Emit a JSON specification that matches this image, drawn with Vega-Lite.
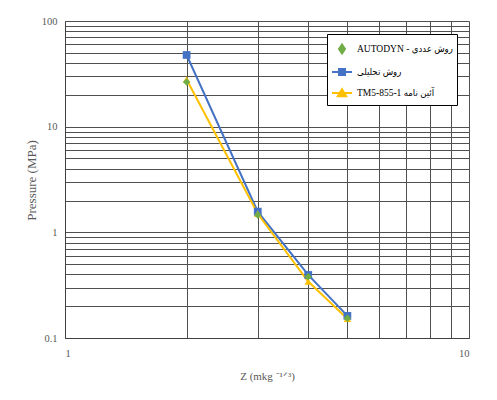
{
  "$schema": "https://vega.github.io/schema/vega-lite/v6.json",
  "autosize": "none",
  "width": 404,
  "height": 317,
  "padding": {"left": 65, "top": 21, "right": 28, "bottom": 62},
  "background": "white",
  "config": {
    "view": {"stroke": null},
    "font": "Liberation Serif",
    "axis": {
      "labelFont": "Liberation Serif",
      "titleFont": "Liberation Serif",
      "labelColor": "#595959",
      "titleColor": "#595959",
      "labelFontSize": 10.5,
      "titleFontWeight": "normal",
      "gridColor": "#505050",
      "gridOpacity": 1,
      "gridWidth": 1,
      "domainColor": "#404040",
      "ticks": false
    }
  },
  "data": {
    "values": [
      {"z": 2, "p": 47.7, "series": "روش تحلیلی"},
      {"z": 3, "p": 1.57, "series": "روش تحلیلی"},
      {"z": 4, "p": 0.395, "series": "روش تحلیلی"},
      {"z": 5, "p": 0.162, "series": "روش تحلیلی"},
      {"z": 2, "p": 28, "series": "TM5-855-1 آئین نامه"},
      {"z": 3, "p": 1.5, "series": "TM5-855-1 آئین نامه"},
      {"z": 4, "p": 0.342, "series": "TM5-855-1 آئین نامه"},
      {"z": 5, "p": 0.152, "series": "TM5-855-1 آئین نامه"},
      {"z": 2, "p": 26.5, "series": "AUTODYN - روش عددی"},
      {"z": 3, "p": 1.46, "series": "AUTODYN - روش عددی"},
      {"z": 4, "p": 0.38, "series": "AUTODYN - روش عددی"},
      {"z": 5, "p": 0.154, "series": "AUTODYN - روش عددی"}
    ]
  },
  "encoding": {
    "x": {
      "field": "z", "type": "quantitative",
      "scale": {"type": "log", "domain": [1, 10], "nice": false},
      "axis": {
        "title": "Z (mkg ⁻¹ᐟ³)",
        "titleFontSize": 11,
        "titlePadding": 12,
        "values": [1, 2, 3, 4, 5, 6, 7, 8, 9, 10],
        "labelExpr": "datum.value == 1 || datum.value == 10 ? '' + datum.value : ''",
        "labelPadding": 10
      }
    },
    "y": {
      "field": "p", "type": "quantitative",
      "scale": {"type": "log", "domain": [0.1, 100], "nice": false},
      "axis": {
        "title": "Pressure (MPa)",
        "titleFontSize": 13,
        "titleX": -27,
        "titleY": 159,
        "values": [0.1, 0.2, 0.3, 0.4, 0.5, 0.6, 0.7, 0.8, 0.9, 1, 2, 3, 4, 5, 6, 7, 8, 9, 10, 20, 30, 40, 50, 60, 70, 80, 90, 100],
        "labelExpr": "datum.value == 0.1 || datum.value == 1 || datum.value == 10 || datum.value == 100 ? '' + datum.value : ''",
        "labelPadding": 8
      }
    },
    "color": {
      "field": "series", "type": "nominal",
      "scale": {
        "domain": ["AUTODYN - روش عددی", "روش تحلیلی", "TM5-855-1 آئین نامه"],
        "range": ["#70AD47", "#4472C4", "#FFC000"]
      },
      "legend": {
        "title": null,
        "orient": "none",
        "legendX": 262,
        "legendY": 13,
        "fillColor": "white",
        "strokeColor": "black",
        "padding": 4,
        "symbolSize": 400,
        "symbolStrokeWidth": 2,
        "labelFont": "Liberation Serif, DejaVu Sans Condensed",
        "labelFontSize": 9.5,
        "labelColor": "black",
        "labelOffset": 4,
        "rowPadding": 3,
        "labelLimit": 200,
        "encode": {
          "symbols": {
            "update": {
              "shape": [
                {"test": "indexof(datum.value,'AUTODYN')>=0", "value": "M0,-0.45L0.3,0L0,0.45L-0.3,0Z"},
                {"test": "indexof(datum.value,'TM5')>=0", "value": "M-1,0H1M0,-0.38L0.42,0.32H-0.42Z"},
                {"value": "M-1,0H1M-0.3,-0.3H0.3V0.3H-0.3Z"}
              ]
            }
          }
        }
      }
    }
  },
  "layer": [
    {
      "transform": [{"filter": "indexof(datum.series,'AUTODYN') < 0"}],
      "mark": {"type": "line", "strokeWidth": 2}
    },
    {
      "transform": [{"filter": "datum.series == 'روش تحلیلی'"}],
      "mark": {"type": "point", "filled": true, "opacity": 1, "shape": "square", "size": 60}
    },
    {
      "transform": [{"filter": "indexof(datum.series,'TM5') >= 0"}],
      "mark": {"type": "point", "filled": true, "opacity": 1, "shape": "triangle-up", "size": 55}
    },
    {
      "transform": [{"filter": "indexof(datum.series,'AUTODYN') >= 0"}],
      "mark": {"type": "point", "filled": true, "opacity": 1, "shape": "diamond", "size": 55}
    }
  ]
}
